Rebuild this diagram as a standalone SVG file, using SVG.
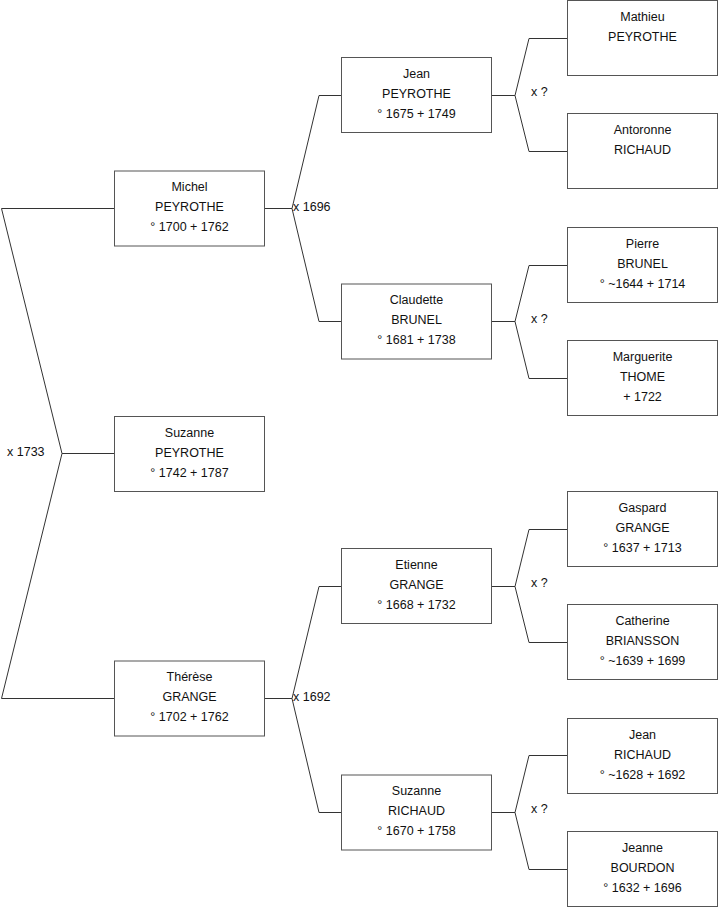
<svg xmlns="http://www.w3.org/2000/svg" width="719" height="908" viewBox="0 0 719 908">
<style>
.box rect{fill:#fff;stroke:#555;stroke-width:1}
text{font-family:"Liberation Sans",Arial,sans-serif;font-size:12.5px;fill:#111}
.box text{text-anchor:middle}
.c{fill:none;stroke:#333;stroke-width:1}
</style>
<rect width="719" height="908" fill="#fff"/>
<g id="connectors" class="c">
<polyline points="114,208.5 1.5,208.5 62,453.5 1.5,698.5 114,698.5"/>
<line x1="62" y1="453.5" x2="114" y2="453.5"/>
<polyline points="341,95.5 319,95.5 292,208.5 319,321.5 341,321.5"/>
<line x1="265" y1="208.5" x2="292" y2="208.5"/>
<polyline points="341,586.5 319,586.5 292,698.5 319,812.5 341,812.5"/>
<line x1="265" y1="698.5" x2="292" y2="698.5"/>
<polyline points="567,38.5 529,38.5 515,95.5 529,151.5 567,151.5"/>
<line x1="491" y1="95.5" x2="515" y2="95.5"/>
<polyline points="567,265.5 529,265.5 515,321.5 529,378.5 567,378.5"/>
<line x1="491" y1="321.5" x2="515" y2="321.5"/>
<polyline points="567,529.5 529,529.5 515,586.5 529,642.5 567,642.5"/>
<line x1="491" y1="586.5" x2="515" y2="586.5"/>
<polyline points="567,755.5 529,755.5 515,812.5 529,869.5 567,869.5"/>
<line x1="491" y1="812.5" x2="515" y2="812.5"/>
</g>
<g id="labels">
<text x="7" y="456">x 1733</text>
<text x="293" y="211">x 1696</text>
<text x="293" y="701">x 1692</text>
<text x="531" y="96">x ?</text>
<text x="531" y="323">x ?</text>
<text x="531" y="587">x ?</text>
<text x="531" y="813">x ?</text>
</g>
<g id="michel" class="box"><rect x="114.5" y="171" width="150" height="75"/><text x="189.5" y="191">Michel</text><text x="189.5" y="211">PEYROTHE</text><text x="189.5" y="231">° 1700 + 1762</text></g>
<g id="suzanne-p" class="box"><rect x="114.5" y="416.5" width="150" height="75"/><text x="189.5" y="436.5">Suzanne</text><text x="189.5" y="456.5">PEYROTHE</text><text x="189.5" y="476.5">° 1742 + 1787</text></g>
<g id="therese" class="box"><rect x="114.5" y="661" width="150" height="75"/><text x="189.5" y="681">Thérèse</text><text x="189.5" y="701">GRANGE</text><text x="189.5" y="721">° 1702 + 1762</text></g>
<g id="jean-p" class="box"><rect x="341.5" y="57.5" width="150" height="75"/><text x="416.5" y="77.5">Jean</text><text x="416.5" y="97.5">PEYROTHE</text><text x="416.5" y="117.5">° 1675 + 1749</text></g>
<g id="claudette" class="box"><rect x="341.5" y="284" width="150" height="75"/><text x="416.5" y="304">Claudette</text><text x="416.5" y="324">BRUNEL</text><text x="416.5" y="344">° 1681 + 1738</text></g>
<g id="etienne" class="box"><rect x="341.5" y="548.5" width="150" height="75"/><text x="416.5" y="568.5">Etienne</text><text x="416.5" y="588.5">GRANGE</text><text x="416.5" y="608.5">° 1668 + 1732</text></g>
<g id="suzanne-r" class="box"><rect x="341.5" y="775" width="150" height="75"/><text x="416.5" y="795">Suzanne</text><text x="416.5" y="815">RICHAUD</text><text x="416.5" y="835">° 1670 + 1758</text></g>
<g id="mathieu" class="box"><rect x="567.5" y="0.5" width="150" height="75"/><text x="642.5" y="20.5">Mathieu</text><text x="642.5" y="40.5">PEYROTHE</text></g>
<g id="antoronne" class="box"><rect x="567.5" y="113.5" width="150" height="75"/><text x="642.5" y="133.5">Antoronne</text><text x="642.5" y="153.5">RICHAUD</text></g>
<g id="pierre" class="box"><rect x="567.5" y="227.5" width="150" height="75"/><text x="642.5" y="247.5">Pierre</text><text x="642.5" y="267.5">BRUNEL</text><text x="642.5" y="287.5">° ~1644 + 1714</text></g>
<g id="marguerite" class="box"><rect x="567.5" y="340.5" width="150" height="75"/><text x="642.5" y="360.5">Marguerite</text><text x="642.5" y="380.5">THOME</text><text x="642.5" y="400.5"> + 1722</text></g>
<g id="gaspard" class="box"><rect x="567.5" y="491.5" width="150" height="75"/><text x="642.5" y="511.5">Gaspard</text><text x="642.5" y="531.5">GRANGE</text><text x="642.5" y="551.5">° 1637 + 1713</text></g>
<g id="catherine" class="box"><rect x="567.5" y="604.5" width="150" height="75"/><text x="642.5" y="624.5">Catherine</text><text x="642.5" y="644.5">BRIANSSON</text><text x="642.5" y="664.5">° ~1639 + 1699</text></g>
<g id="jean-r" class="box"><rect x="567.5" y="718.5" width="150" height="75"/><text x="642.5" y="738.5">Jean</text><text x="642.5" y="758.5">RICHAUD</text><text x="642.5" y="778.5">° ~1628 + 1692</text></g>
<g id="jeanne" class="box"><rect x="567.5" y="831.5" width="150" height="75"/><text x="642.5" y="851.5">Jeanne</text><text x="642.5" y="871.5">BOURDON</text><text x="642.5" y="891.5">° 1632 + 1696</text></g>
</svg>
